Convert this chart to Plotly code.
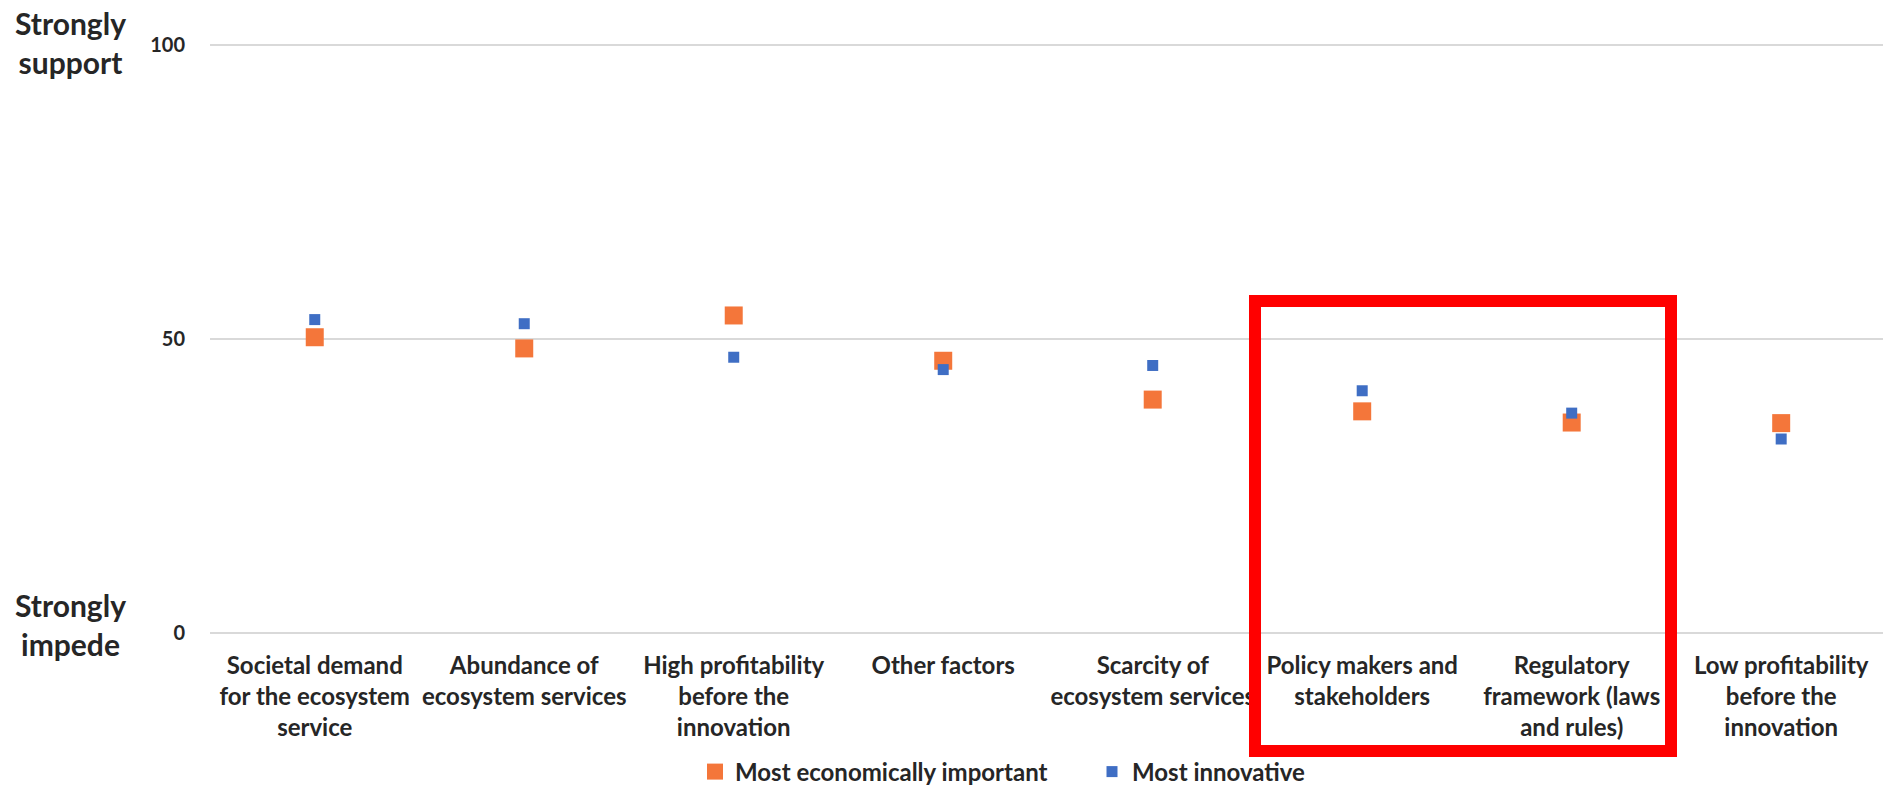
import plotly.graph_objects as go

categories = [
    "Societal demand<br>for the ecosystem<br>service",
    "Abundance of<br>ecosystem services",
    "High profitability<br>before the<br>innovation",
    "Other factors",
    "Scarcity of<br>ecosystem services",
    "Policy makers and<br>stakeholders",
    "Regulatory<br>framework (laws<br>and rules)",
    "Low profitability<br>before the<br>innovation",
]
economically_important = [50.3, 48.4, 54.0, 46.3, 39.7, 37.7, 35.8, 35.7]
most_innovative = [53.3, 52.6, 46.9, 44.8, 45.5, 41.2, 37.4, 33.0]
y_ticks = [0, 50, 100]

FONT = "Lato"
TEXT = "#262626"
ORANGE = "#F4763A"
BLUE = "#3F6EC4"

xpos = list(range(len(categories)))

fig = go.Figure()
fig.add_trace(go.Scatter(
    x=xpos, y=economically_important, mode="markers",
    name="Most economically important",
    marker=dict(symbol="square", size=18, color=ORANGE, line=dict(width=0)),
))
fig.add_trace(go.Scatter(
    x=xpos, y=most_innovative, mode="markers",
    name="Most innovative",
    marker=dict(symbol="square", size=11, color=BLUE, line=dict(width=0)),
))

fig.update_xaxes(
    range=[-0.5, 7.486], tickvals=xpos, ticktext=categories,
    showgrid=False, zeroline=False, showline=False, ticks="",
    tickfont=dict(family=FONT, size=24, color=TEXT, weight="bold"),
    ticklabelstandoff=10,
)
fig.update_yaxes(
    range=[-1, 101], tickvals=y_ticks, ticktext=[str(v) for v in y_ticks],
    showgrid=True, gridcolor="#D9D9D9", gridwidth=2,
    zeroline=False, showline=False, ticks="",
    tickfont=dict(family=FONT, size=20, color=TEXT, weight="bold"),
    ticklabelstandoff=24,
)

# end labels of the support scale
for yv, txt, shift in [(100, "Strongly<br>support", 2), (0, "Strongly<br>impede", 9)]:
    fig.add_annotation(
        xref="paper", yref="y", x=(70 - 210) / 1673, y=yv, yshift=shift,
        text=txt, showarrow=False, xanchor="center", yanchor="middle",
        font=dict(family=FONT, size=30, color=TEXT, weight="bold"),
    )

# highlight box around the policy and regulatory categories
fig.add_shape(
    type="rect", xref="paper", yref="paper",
    x0=(1255 - 210) / 1673, x1=(1671 - 210) / 1673,
    y0=(639 - 751) / 600, y1=(639 - 301) / 600,
    line=dict(color="#FF0000", width=12), fillcolor="rgba(0,0,0,0)",
)

fig.update_layout(
    width=1883, height=786,
    margin=dict(l=210, r=0, t=39, b=147, autoexpand=False),
    paper_bgcolor="white", plot_bgcolor="white",
    showlegend=True,
    legend=dict(
        orientation="h", xanchor="center", yanchor="middle",
        x=(1092 - 210) / 1673, y=(639 - 772) / 600,
        bgcolor="rgba(0,0,0,0)",
        font=dict(family=FONT, size=24, color=TEXT, weight="bold"),
        itemwidth=30, entrywidth=352, entrywidthmode="pixels",
    ),
)

fig.write_html("out.html")
